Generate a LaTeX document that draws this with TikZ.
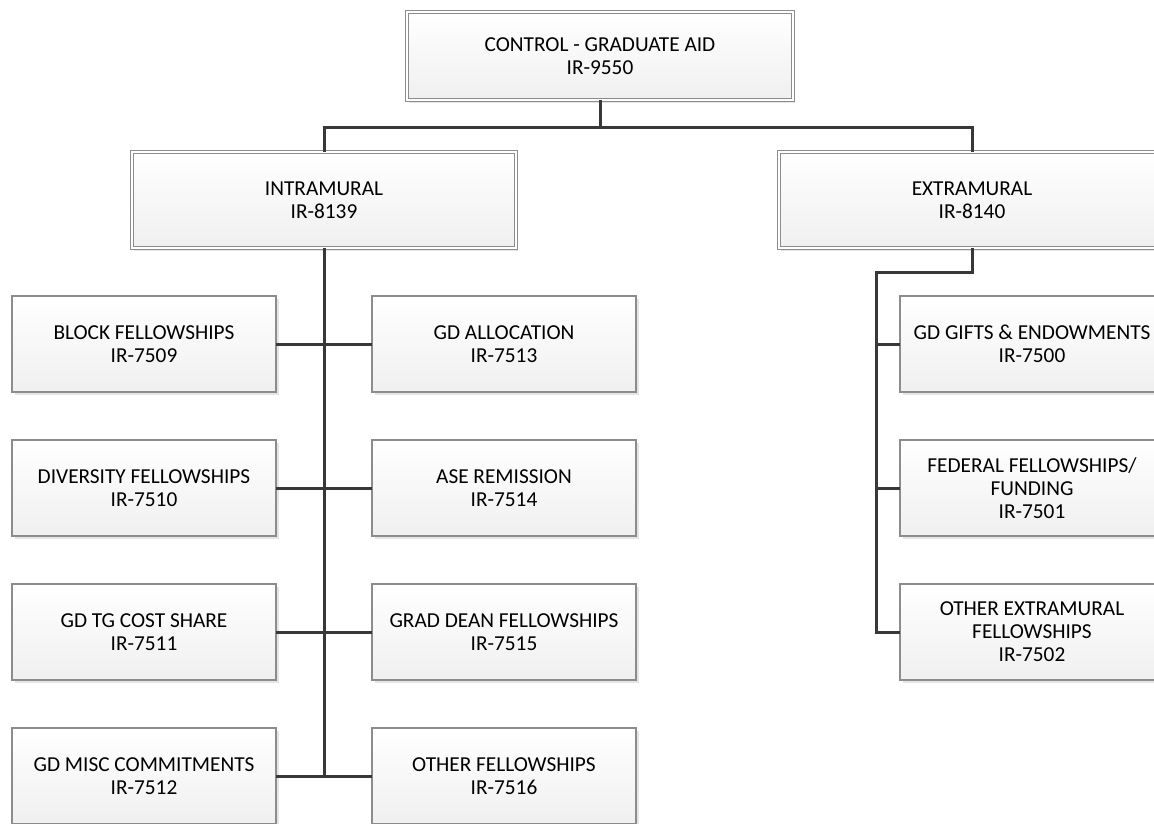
\documentclass[tikz,border=0pt]{standalone}
\usepackage{fontspec}
\setmainfont{Carlito}
\usetikzlibrary{positioning, shadows}

\begin{document}
\begin{tikzpicture}[node distance=48pt, font=\fontsize{21.3}{23}\selectfont]

\tikzstyle{head}=[rectangle,draw=black!45,double=white,double distance=1.3pt,line width=0.9pt,top color=white,bottom color=black!6,minimum width=384pt,minimum height=96pt,align=center,inner sep=0pt,outer sep=0pt,drop shadow={shadow xshift=2pt,shadow yshift=-3pt,fill=black!10,opacity=1}]
\tikzstyle{leaf}=[rectangle,draw=black!45,line width=1.2pt,top color=white,bottom color=black!6,minimum width=264pt,minimum height=96pt,align=center,inner sep=0pt,outer sep=0pt,drop shadow={shadow xshift=3pt,shadow yshift=-3pt,fill=black!10,opacity=1}]
\tikzstyle{link}=[draw=black!78, line width=3pt]

\clip (0,0) rectangle (1154pt,-823pt);

\node (control) [head,minimum width=386pt,minimum height=88pt] at (600pt,-56pt) {CONTROL - GRADUATE AID\\IR-9550};

\node (intra) [head] at (324pt,-200pt) {INTRAMURAL\\IR-8139};
\node (extra) [head,minimum width=386pt] at (972pt,-200pt) {EXTRAMURAL\\IR-8140};

\node (block) [leaf] at (144pt,-344pt) {BLOCK FELLOWSHIPS\\IR-7509};
\node (diversity) [leaf,below=of block] {DIVERSITY FELLOWSHIPS\\IR-7510};
\node (tgcost) [leaf,below=of diversity] {GD TG COST SHARE\\IR-7511};
\node (misc) [leaf,below=of tgcost] {GD MISC COMMITMENTS\\IR-7512};

\node (alloc) [leaf,right=96pt of block] {GD ALLOCATION\\IR-7513};
\node (remission) [leaf,below=of alloc] {ASE REMISSION\\IR-7514};
\node (graddean) [leaf,below=of remission] {GRAD DEAN FELLOWSHIPS\\IR-7515};
\node (otherfel) [leaf,below=of graddean] {OTHER FELLOWSHIPS\\IR-7516};

\node (gifts) [leaf,right=264pt of alloc] {GD GIFTS \& ENDOWMENTS\\IR-7500};
\node (federal) [leaf,below=of gifts] {FEDERAL FELLOWSHIPS/\\FUNDING\\IR-7501};
\node (otherext) [leaf,below=of federal] {OTHER EXTRAMURAL\\FELLOWSHIPS\\IR-7502};

% Connections
\coordinate [below=27pt of control] (split);
\draw[link] (control) -- (split);
\draw[link] (intra) |- (split) -| (extra);

\draw[link] (intra) -- (intra |- misc.east);
\draw[link] (block) -- (alloc);
\draw[link] (diversity) -- (remission);
\draw[link] (tgcost) -- (graddean);
\draw[link] (misc) -- (otherfel);

\coordinate [below=24pt of extra] (extsplit);
\coordinate [left=24pt of otherext] (extcorner);
\draw[link] (extra) -- (extsplit) -| (extcorner) -- (otherext);
\draw[link] (gifts) -- (gifts -| extcorner);
\draw[link] (federal) -- (federal -| extcorner);

\end{tikzpicture}
\end{document}
